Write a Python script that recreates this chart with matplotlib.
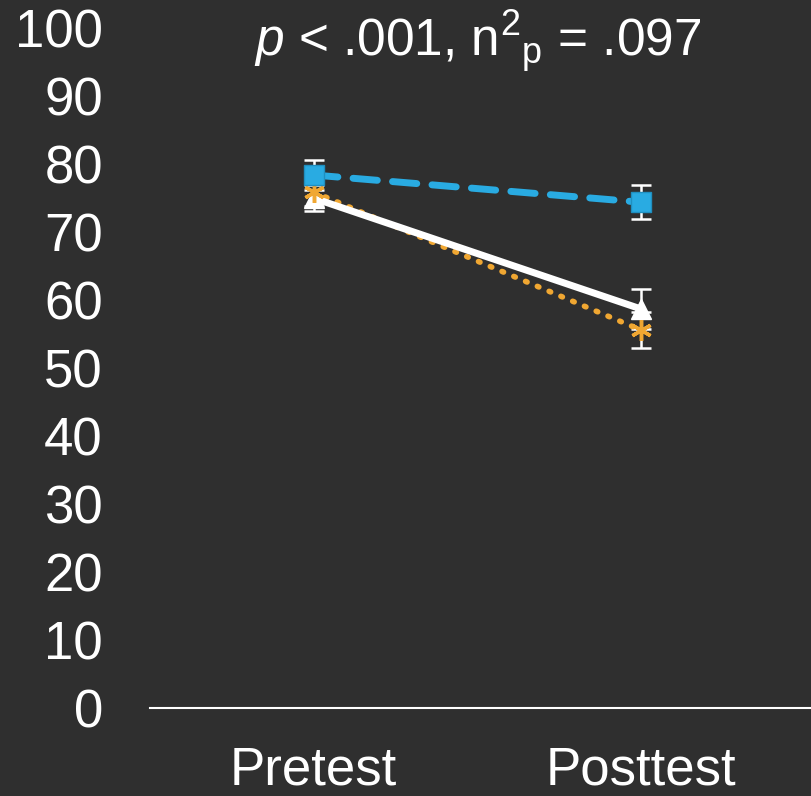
import numpy as np
import matplotlib
matplotlib.use("Agg")
import matplotlib.pyplot as plt

plt.rcParams["font.family"] = ["Liberation Sans", "DejaVu Sans"]
plt.rcParams["mathtext.fontset"] = "custom"
plt.rcParams["mathtext.rm"] = "Liberation Sans"
plt.rcParams["mathtext.it"] = "Liberation Sans:italic"

BG = "#2f2f2f"

# data
phases = ["Pretest", "Posttest"]
blue_mean = [78.4, 74.4]
blue_err = [2.2, 2.5]
white_mean = [75.0, 58.7]
white_err = [1.9, 3.0]
orange_mean = [75.9, 55.6]
orange_err = [2.0, 2.6]
y_ticks = [0, 10, 20, 30, 40, 50, 60, 70, 80, 90, 100]

fig = plt.figure(figsize=(8.11, 7.96), dpi=100, facecolor=BG)
ax = fig.add_axes([0.185, 0.1106, 0.815, 0.854], facecolor=BG)
x = np.arange(len(phases))

# orange dotted
ax.plot(x, orange_mean, color="#f0a732", lw=4, linestyle=(0, (0.3, 2.0)),
        dash_capstyle="round", zorder=2)
ax.errorbar(x, orange_mean, yerr=orange_err, fmt="none", ecolor="white",
            elinewidth=1.8, capsize=7, capthick=1.8, zorder=1)

# white solid
ax.plot(x, white_mean, color="white", lw=5, zorder=3)
ax.errorbar(x, white_mean, yerr=white_err, fmt="none", ecolor="white",
            elinewidth=1.8, capsize=7, capthick=1.8, zorder=1)
ax.plot(x, white_mean, linestyle="none", marker="^", markersize=15,
        color="white", zorder=4)
ax.plot(x, orange_mean, linestyle="none", marker=(6, 2, 0), markersize=15,
        markeredgecolor="#f0a732", markeredgewidth=2.5, zorder=5)

# blue dashed
ax.errorbar(x, blue_mean, yerr=blue_err, fmt="none", ecolor="white",
            elinewidth=1.8, capsize=7, capthick=1.8, zorder=1)
ax.plot(x, blue_mean, color="#29abe2", lw=5, linestyle=(0, (3.5, 2.2)),
        dash_capstyle="round", zorder=6)
ax.plot(x, blue_mean, linestyle="none", marker="s", markersize=15,
        markerfacecolor="#29abe2", markeredgecolor="#1f8fc0",
        markeredgewidth=1, zorder=7)

ax.set_xlim(-0.5, 1.52)
ax.set_ylim(0, 100)
ax.set_yticks(y_ticks)
ax.set_xticks(x)
ax.set_xticklabels(phases)
ax.tick_params(axis="y", length=0, pad=34, labelsize=38, labelcolor="white")
ax.tick_params(axis="x", length=0, pad=27, labelsize=38, labelcolor="white")
for s in ["left", "right", "top"]:
    ax.spines[s].set_visible(False)
ax.spines["bottom"].set_color("white")
ax.spines["bottom"].set_linewidth(1.5)
ax.spines["bottom"].set_zorder(0)

fig.text(478 / 811, 1 - 42 / 796,
         r"$\mathit{p}$ < .001, n$^{2}$$_{\mathrm{p}}$ = .097",
         color="white", fontsize=37, ha="center", va="center")

fig.savefig("out.png", dpi=100, facecolor=BG)
